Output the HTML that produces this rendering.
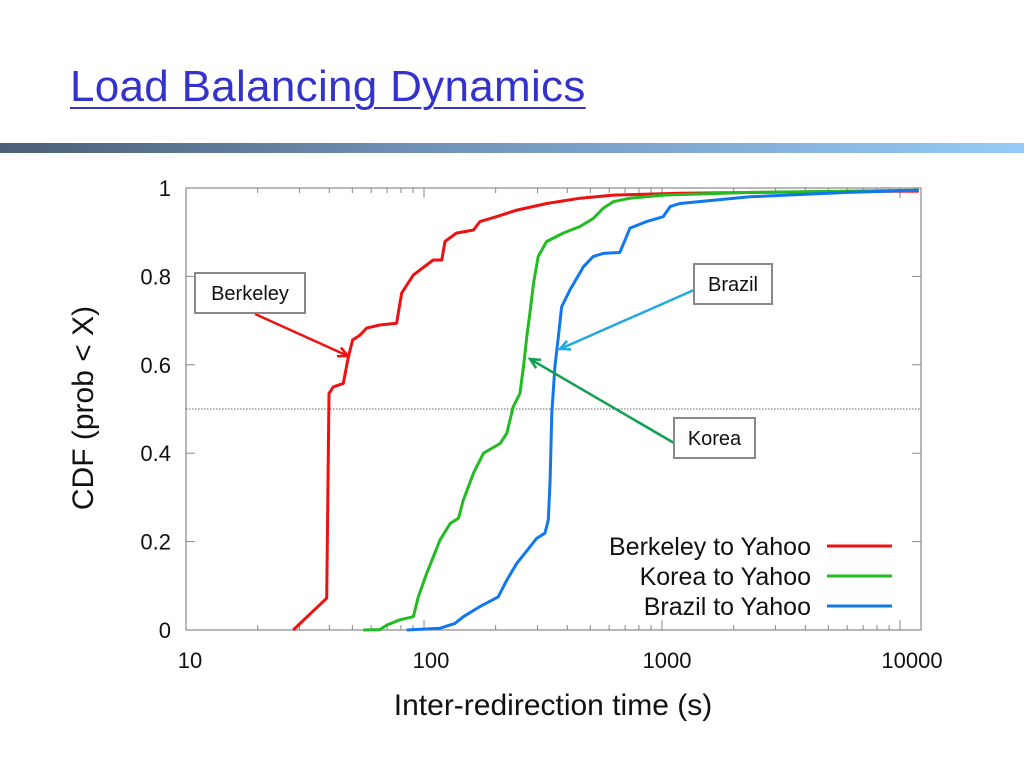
<!DOCTYPE html>
<html><head><meta charset="utf-8"><style>
body{margin:0;width:1024px;height:768px;background:#fff;overflow:hidden;position:relative;font-family:"Liberation Sans",sans-serif}
#title{position:absolute;left:70px;top:62px;font-size:44px;color:#3333cc;text-decoration:underline;text-decoration-thickness:2px;text-underline-offset:6px;font-family:"Liberation Sans",sans-serif;letter-spacing:0.3px}
#bar{position:absolute;left:0;top:143px;width:1024px;height:10px;background:linear-gradient(90deg,#4a5f78,#6f8fb4 40%,#95cbf8 100%)}
</style></head><body>
<div id="title">Load Balancing Dynamics</div>
<div id="bar"></div>
<svg id="chart" width="1024" height="768" style="position:absolute;left:0;top:0"></svg>
<script>
const xTicks=[10,100,1000,10000];
const yTicks=[0,0.2,0.4,0.6,0.8,1];
const yTickLabels=["0","0.2","0.4","0.6","0.8","1"];
const seriesNames=["Berkeley to Yahoo","Korea to Yahoo","Brazil to Yahoo"];
const berkeleyX=[28.2,39.0,39.9,41.6,45.8,48.1,50.1,53.8,57.4,65.3,76.7,80.5,90.2,109.3,118.8,122.5,136.8,161.4,171.8,201.4,245.5,328,453,624,1189,3500,12000];
const berkeleyY=[0,0.072,0.535,0.55,0.558,0.618,0.656,0.667,0.683,0.69,0.694,0.762,0.803,0.837,0.837,0.879,0.898,0.905,0.924,0.935,0.95,0.965,0.977,0.984,0.988,0.991,0.993];
const koreaX=[55.6,65.3,69.7,79.2,90.2,94.6,102.6,116.9,128.8,139.6,146.3,161.4,177.8,208.9,222.8,237.1,253,261.8,270.4,278.6,288.4,302,327.3,384.6,451.9,514,566,624,733,1012,2339,12000];
const koreaY=[0,0.001,0.011,0.023,0.03,0.075,0.128,0.204,0.241,0.253,0.294,0.355,0.4,0.422,0.445,0.505,0.535,0.596,0.664,0.717,0.784,0.845,0.879,0.898,0.913,0.931,0.954,0.969,0.977,0.984,0.99,0.995];
const brazilX=[84.5,116.9,134.9,146.3,171.8,205,222.8,245.5,278.6,297,322,333,338.8,344.4,354.8,367,378.4,410,467.7,514,566,665,699,733,861,1012,1081,1189,2339,6000,12000];
const brazilY=[0,0.004,0.015,0.03,0.053,0.075,0.113,0.151,0.188,0.207,0.219,0.249,0.339,0.49,0.596,0.664,0.731,0.769,0.822,0.845,0.852,0.854,0.882,0.909,0.924,0.935,0.958,0.965,0.98,0.99,0.995];
const colors=["#ee1111","#22bb22","#1177ee"];
const L=186,R=921,T=188,B=630,DEC=238;
const xs=v=>L+(Math.log10(v)-1)*DEC;
const ys=v=>B-v*(B-T);
const svg=document.getElementById('chart');
const NS="http://www.w3.org/2000/svg";
function mk(tag,attrs,parent){const e=document.createElementNS(NS,tag);for(const k in attrs)e.setAttribute(k,attrs[k]);(parent||svg).appendChild(e);return e;}
let fr=mk('rect',{x:L,y:T,width:R-L,height:B-T,fill:'none',stroke:'#888','stroke-width':1.2});


for(let d=10;d<=10000;d*=10){for(let m=2;m<10;m++){const x=xs(d*m);if(x>=R)break;mk('line',{x1:x,x2:x,y1:B,y2:B-5,stroke:'#888'});mk('line',{x1:x,x2:x,y1:T,y2:T+5,stroke:'#888'});}}
const labelOffsets=[4,7,5,12];
xTicks.forEach((v,i)=>{const x=xs(v);mk('line',{x1:x,x2:x,y1:B,y2:B-10,stroke:'#888'});mk('line',{x1:x,x2:x,y1:T,y2:T+10,stroke:'#888'});
const t=mk('text',{x:x+labelOffsets[i],y:668,'text-anchor':'middle','font-size':22,fill:'#111'});t.textContent=v;

});
yTicks.forEach((v,i)=>{const y=ys(v);mk('line',{x1:L,x2:L+9,y1:y,y2:y,stroke:'#888'});mk('line',{x1:R,x2:R-9,y1:y,y2:y,stroke:'#888'});
const t=mk('text',{x:171,y:y+8,'text-anchor':'end','font-size':22,fill:'#111'});t.textContent=yTickLabels[i];

});
let ref=mk('line',{x1:L,x2:R,y1:ys(0.5),y2:ys(0.5),stroke:'#333','stroke-width':0.8,'stroke-dasharray':'1.5,1.5'});


let xt=mk('text',{x:553,y:715,'text-anchor':'middle','font-size':30,fill:'#111'});xt.textContent='Inter-redirection time (s)';


let yt=mk('text',{x:0,y:0,'text-anchor':'middle','font-size':30,fill:'#111',transform:'translate(93,408) rotate(-90)'});yt.textContent='CDF (prob < X)';


[[berkeleyX,berkeleyY],[koreaX,koreaY],[brazilX,brazilY]].forEach((s,i)=>{
const pts=s[0].map((v,j)=>Math.min(R,xs(v)).toFixed(1)+','+ys(s[1][j]).toFixed(1)).join(' ');
const p=mk('polyline',{points:pts,fill:'none',stroke:colors[i],'stroke-width':3,'stroke-linejoin':'round'});


const ly=546+i*30;
const lt=mk('text',{x:811,y:ly+9,'text-anchor':'end','font-size':25,fill:'#111'});lt.textContent=seriesNames[i];


const ll=mk('line',{x1:827,x2:892,y1:ly,y2:ly,stroke:colors[i],'stroke-width':3});


});
function box(x,y,w,h,label,name){const g=mk('g',{});
mk('rect',{x:x,y:y,width:w,height:h,fill:'#fff',stroke:'#888','stroke-width':2},g);
const t=mk('text',{x:x+w/2,y:y+h/2+7,'text-anchor':'middle','font-size':20,fill:'#111'},g);t.textContent=label;}
function arrow(x1,y1,x2,y2,c,name){const g=mk('g',{});
mk('line',{x1:x1,y1:y1,x2:x2,y2:y2,stroke:c,'stroke-width':2.5},g);
const a=Math.atan2(y2-y1,x2-x1),l=11;
mk('polyline',{points:`${x2-l*Math.cos(a-0.45)},${y2-l*Math.sin(a-0.45)} ${x2},${y2} ${x2-l*Math.cos(a+0.45)},${y2-l*Math.sin(a+0.45)}`,fill:'none',stroke:c,'stroke-width':2.5},g);}
arrow(255,314,348,356,'#ee1111','berkeley-arrow');
arrow(694,290,560,349,'#22aadd','brazil-arrow');
arrow(674,443,530,359,'#11a050','korea-arrow');
box(195,273,110,40,'Berkeley','berkeley-annotation');
box(694,264,78,40,'Brazil','brazil-annotation');
box(674,418,81,40,'Korea','korea-annotation');
</script>
</body></html>
